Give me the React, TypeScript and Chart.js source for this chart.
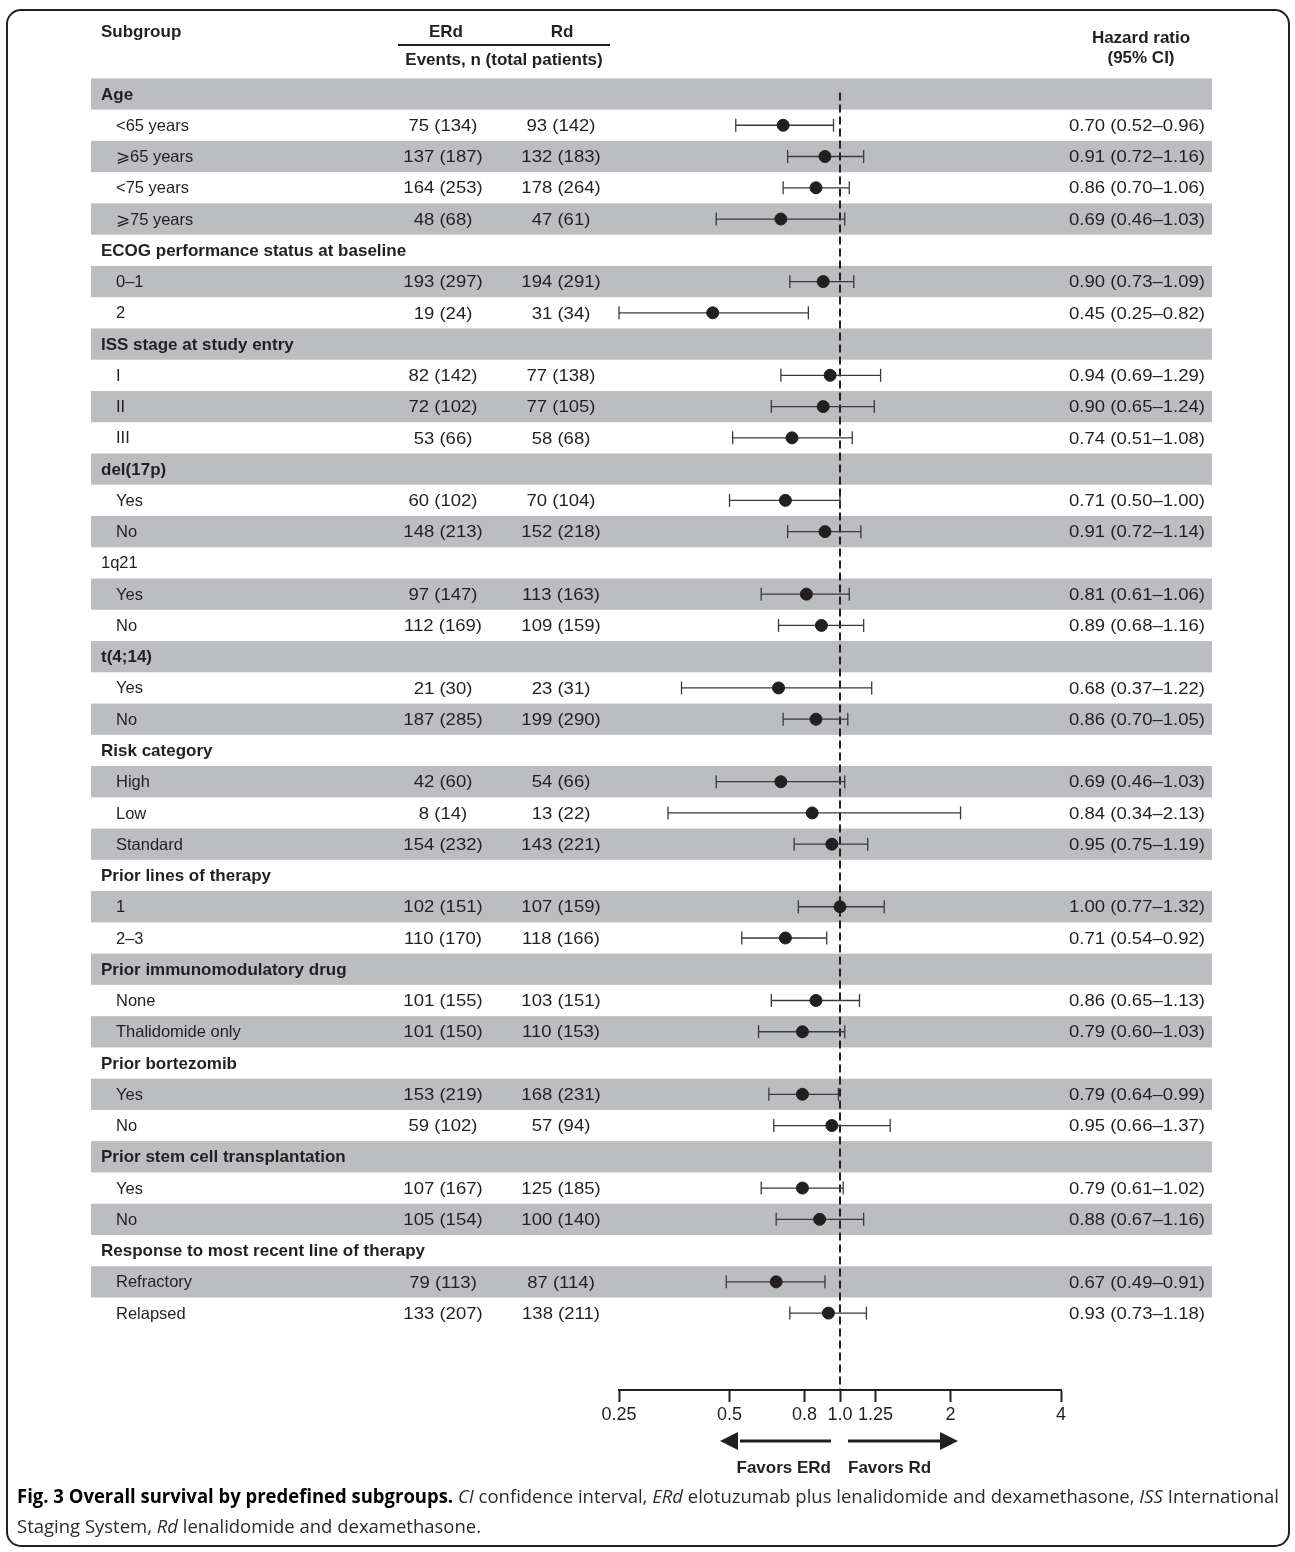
import React, { useEffect, useRef } from 'react';
import { Chart, registerables } from 'chart.js';

Chart.register(...registerables);

// ---------- data ----------
const subgroupLabels = [
  'Age', '<65 years', '⩾65 years', '<75 years', '⩾75 years',
  'ECOG performance status at baseline', '0–1', '2',
  'ISS stage at study entry', 'I', 'II', 'III',
  'del(17p)', 'Yes', 'No',
  '1q21', 'Yes', 'No',
  't(4;14)', 'Yes', 'No',
  'Risk category', 'High', 'Low', 'Standard',
  'Prior lines of therapy', '1', '2–3',
  'Prior immunomodulatory drug', 'None', 'Thalidomide only',
  'Prior bortezomib', 'Yes', 'No',
  'Prior stem cell transplantation', 'Yes', 'No',
  'Response to most recent line of therapy', 'Refractory', 'Relapsed',
];
// h = bold group header, p = plain group header, s = subgroup row
const rowKinds = [
  'h', 's', 's', 's', 's',
  'h', 's', 's',
  'h', 's', 's', 's',
  'h', 's', 's',
  'p', 's', 's',
  'h', 's', 's',
  'h', 's', 's', 's',
  'h', 's', 's',
  'h', 's', 's',
  'h', 's', 's',
  'h', 's', 's',
  'h', 's', 's',
];
const erdEvents = [null, 75, 137, 164, 48, null, 193, 19, null, 82, 72, 53, null, 60, 148, null, 97, 112, null, 21, 187, null, 42, 8, 154, null, 102, 110, null, 101, 101, null, 153, 59, null, 107, 105, null, 79, 133];
const erdTotal = [null, 134, 187, 253, 68, null, 297, 24, null, 142, 102, 66, null, 102, 213, null, 147, 169, null, 30, 285, null, 60, 14, 232, null, 151, 170, null, 155, 150, null, 219, 102, null, 167, 154, null, 113, 207];
const rdEvents = [null, 93, 132, 178, 47, null, 194, 31, null, 77, 77, 58, null, 70, 152, null, 113, 109, null, 23, 199, null, 54, 13, 143, null, 107, 118, null, 103, 110, null, 168, 57, null, 125, 100, null, 87, 138];
const rdTotal = [null, 142, 183, 264, 61, null, 291, 34, null, 138, 105, 68, null, 104, 218, null, 163, 159, null, 31, 290, null, 66, 22, 221, null, 159, 166, null, 151, 153, null, 231, 94, null, 185, 140, null, 114, 211];
const hazardRatio = [null, 0.70, 0.91, 0.86, 0.69, null, 0.90, 0.45, null, 0.94, 0.90, 0.74, null, 0.71, 0.91, null, 0.81, 0.89, null, 0.68, 0.86, null, 0.69, 0.84, 0.95, null, 1.00, 0.71, null, 0.86, 0.79, null, 0.79, 0.95, null, 0.79, 0.88, null, 0.67, 0.93];
const ciLow = [null, 0.52, 0.72, 0.70, 0.46, null, 0.73, 0.25, null, 0.69, 0.65, 0.51, null, 0.50, 0.72, null, 0.61, 0.68, null, 0.37, 0.70, null, 0.46, 0.34, 0.75, null, 0.77, 0.54, null, 0.65, 0.60, null, 0.64, 0.66, null, 0.61, 0.67, null, 0.49, 0.73];
const ciHigh = [null, 0.96, 1.16, 1.06, 1.03, null, 1.09, 0.82, null, 1.29, 1.24, 1.08, null, 1.00, 1.14, null, 1.06, 1.16, null, 1.22, 1.05, null, 1.03, 2.13, 1.19, null, 1.32, 0.92, null, 1.13, 1.03, null, 0.99, 1.37, null, 1.02, 1.16, null, 0.91, 1.18];

const xTickValues = [0.25, 0.5, 0.8, 1, 1.25, 2, 4];
const xTickLabels = ['0.25', '0.5', '0.8', '1.0', '1.25', '2', '4'];

const headerTexts = ['Subgroup', 'ERd', 'Rd', 'Events, n (total patients)', 'Hazard ratio', '(95% CI)'];
const favorTexts = ['Favors ERd', 'Favors Rd'];
const captionLine1 = [
  ['b', 'Fig. 3 Overall survival by predefined subgroups.'],
  ['r', ' '],
  ['i', 'CI'],
  ['r', ' confidence interval, '],
  ['i', 'ERd'],
  ['r', ' elotuzumab plus lenalidomide and dexamethasone, '],
  ['i', 'ISS'],
  ['r', ' International'],
];
const captionLine2 = [
  ['r', 'Staging System, '],
  ['i', 'Rd'],
  ['r', ' lenalidomide and dexamethasone.'],
];

// ---------- style ----------
const FONT = '"Liberation Sans", Arial, Helvetica, sans-serif';
const CAP_FONT = '"Open Sans", "Noto Sans", sans-serif';
const INK = '#231f20';
const BAND = '#bcbdc0';
const W = 1295;
const H = 1552;

const fmt = (v: number) => v.toFixed(2);

export default function App() {
  const ref = useRef<HTMLCanvasElement>(null);

  useEffect(() => {
    const canvas = ref.current;
    if (!canvas) return;

    const pointData: any[] = [];
    const whiskerData: any[] = [];
    subgroupLabels.forEach((_, i) => {
      const h = hazardRatio[i];
      const lo = ciLow[i];
      const hi = ciHigh[i];
      if (h != null && lo != null && hi != null) {
        pointData.push({ x: h, y: i });
        whiskerData.push({ x: lo, y: i }, { x: hi, y: i }, { x: hi, y: null });
      }
    });

    const yMin = -0.5;
    const yMax = 41.46;

    const tablePlugin = {
      id: 'forestTable',
      beforeDatasetsDraw(chart: any) {
        const ctx = chart.ctx;
        const ys = chart.scales.y;
        ctx.save();
        ctx.fillStyle = BAND;
        subgroupLabels.forEach((_, i) => {
          if (i % 2 === 0) {
            const t = ys.getPixelForValue(i - 0.5);
            const b = ys.getPixelForValue(i + 0.5);
            ctx.fillRect(91, t, 1212 - 91, b - t);
          }
        });
        ctx.restore();
      },
      afterDraw(chart: any) {
        const ctx = chart.ctx;
        const ys = chart.scales.y;
        const xs = chart.scales.x;
        ctx.save();
        ctx.fillStyle = INK;
        ctx.textBaseline = 'middle';

        const numText = (t: string, x: number, y: number, align: string) => {
          const sx = 1.09;
          ctx.save();
          ctx.font = `17px ${FONT}`;
          ctx.textAlign = 'left';
          const w = ctx.measureText(t).width * sx;
          const left = align === 'center' ? x - w / 2 : align === 'right' ? x - w : x;
          ctx.translate(left, y);
          ctx.scale(sx, 1);
          ctx.fillText(t, 0, 0);
          ctx.restore();
        };

        // column headers
        ctx.font = `bold 17px ${FONT}`;
        ctx.textAlign = 'left';
        ctx.fillText(headerTexts[0], 101, 32);
        ctx.textAlign = 'center';
        ctx.fillText(headerTexts[1], 446, 32);
        ctx.fillText(headerTexts[2], 562, 32);
        ctx.fillText(headerTexts[3], 504, 60);
        ctx.fillText(headerTexts[4], 1141, 38);
        ctx.fillText(headerTexts[5], 1141, 58);
        ctx.strokeStyle = INK;
        ctx.lineWidth = 2;
        ctx.beginPath();
        ctx.moveTo(398, 45);
        ctx.lineTo(610, 45);
        ctx.stroke();

        // rows
        subgroupLabels.forEach((label, i) => {
          const y = ys.getPixelForValue(i) + 1;
          const kind = rowKinds[i];
          ctx.textAlign = 'left';
          if (kind === 'h') {
            ctx.font = `bold 17px ${FONT}`;
            ctx.fillText(label, 101, y);
          } else if (kind === 'p') {
            ctx.font = `16.5px ${FONT}`;
            ctx.fillText(label, 101, y);
          } else {
            ctx.font = `16.5px ${FONT}`;
            ctx.fillText(label, 116, y);
          }
          const h = hazardRatio[i];
          if (h != null) {
            numText(`${erdEvents[i]} (${erdTotal[i]})`, 443, y, 'center');
            numText(`${rdEvents[i]} (${rdTotal[i]})`, 561, y, 'center');
            numText(`${fmt(h)} (${fmt(ciLow[i] as number)}–${fmt(ciHigh[i] as number)})`, 1205, y, 'right');
          }
        });

        // arrows below the axis
        const x1 = xs.getPixelForValue(1);
        const ay = 1441;
        ctx.lineWidth = 3;
        ctx.beginPath();
        ctx.moveTo(x1 - 9, ay);
        ctx.lineTo(x1 - 100, ay);
        ctx.moveTo(x1 + 8, ay);
        ctx.lineTo(x1 + 102, ay);
        ctx.stroke();
        ctx.beginPath();
        ctx.moveTo(x1 - 120, ay);
        ctx.lineTo(x1 - 102, ay - 9);
        ctx.lineTo(x1 - 102, ay + 9);
        ctx.closePath();
        ctx.fill();
        ctx.beginPath();
        ctx.moveTo(x1 + 118, ay);
        ctx.lineTo(x1 + 100, ay - 9);
        ctx.lineTo(x1 + 100, ay + 9);
        ctx.closePath();
        ctx.fill();
        ctx.font = `bold 17px ${FONT}`;
        ctx.textAlign = 'right';
        ctx.fillText(favorTexts[0], x1 - 9, 1468);
        ctx.textAlign = 'left';
        ctx.fillText(favorTexts[1], x1 + 8, 1468);

        // caption
        const fontFor = (k: string) =>
          k === 'b' ? `bold 19px ${CAP_FONT}` : k === 'i' ? `italic 19px ${CAP_FONT}` : `19px ${CAP_FONT}`;
        let w1 = 0;
        captionLine1.forEach(([k, t]) => {
          ctx.font = fontFor(k);
          w1 += ctx.measureText(t).width;
        });
        const sx = (1279 - 17) / w1;
        const drawLine = (runs: string[][], baseY: number) => {
          ctx.save();
          ctx.translate(17, baseY);
          ctx.scale(sx, 1);
          ctx.textAlign = 'left';
          ctx.textBaseline = 'alphabetic';
          let cx = 0;
          runs.forEach(([k, t]) => {
            ctx.font = fontFor(k);
            ctx.fillStyle = k === 'b' ? '#000000' : '#2b2b2b';
            ctx.fillText(t, cx, 0);
            cx += ctx.measureText(t).width;
          });
          ctx.restore();
        };
        drawLine(captionLine1, 1503);
        drawLine(captionLine2, 1533);

        // frame
        ctx.strokeStyle = INK;
        ctx.lineWidth = 2;
        ctx.beginPath();
        (ctx as any).roundRect(7, 10, 1282, 1536, 14);
        ctx.stroke();
        ctx.restore();
      },
    };

    const chart = new Chart(canvas, {
      type: 'scatter',
      data: {
        datasets: [
          {
            label: 'Hazard ratio',
            data: pointData,
            order: 0,
            pointRadius: 6,
            pointHoverRadius: 6,
            pointStyle: 'circle',
            backgroundColor: INK,
            borderColor: INK,
            pointBorderWidth: 1,
          },
          {
            label: '95% CI',
            data: whiskerData,
            order: 1,
            showLine: true,
            spanGaps: false,
            borderColor: '#3a3a3a',
            borderWidth: 1.3,
            pointStyle: 'line',
            rotation: 90,
            pointRadius: 6.5,
            pointHoverRadius: 6.5,
            pointBorderColor: '#3a3a3a',
            pointBorderWidth: 1.3,
            backgroundColor: '#3a3a3a',
          },
          {
            label: 'No effect',
            data: [{ x: 1, y: -0.05 }, { x: 1, y: yMax }],
            order: 2,
            showLine: true,
            borderColor: INK,
            borderWidth: 2,
            borderDash: [8, 4],
            pointRadius: 0,
            pointHoverRadius: 0,
          },
        ],
      } as any,
      options: {
        responsive: false,
        animation: false,
        devicePixelRatio: 1,
        events: [],
        clip: false,
        layout: { padding: { left: 619, right: 234, top: 78.37, bottom: 122 } },
        plugins: { legend: { display: false }, tooltip: { enabled: false } },
        scales: {
          x: {
            type: 'logarithmic',
            position: 'bottom',
            min: 0.25,
            max: 4,
            afterBuildTicks: (scale: any) => {
              scale.ticks = xTickValues.map((v) => ({ value: v }));
            },
            afterFit: (scale: any) => {
              scale.height = 40;
            },
            border: { display: true, color: INK, width: 2 },
            grid: {
              display: true,
              drawOnChartArea: false,
              drawTicks: true,
              tickLength: 12,
              tickWidth: 2,
              tickColor: INK,
              color: INK,
            },
            ticks: {
              autoSkip: false,
              maxRotation: 0,
              padding: 2,
              color: INK,
              font: { family: FONT, size: 18 },
              callback: (_v: any, idx: number) => xTickLabels[idx],
            },
          },
          y: {
            type: 'linear',
            display: false,
            reverse: true,
            min: yMin,
            max: yMax,
          },
        },
      } as any,
      plugins: [tablePlugin],
    });

    return () => chart.destroy();
  }, []);

  return (
    <div style={{ position: 'absolute', left: 0, top: 0, width: W, height: H, background: '#ffffff' }}>
      <canvas ref={ref} width={W} height={H} style={{ display: 'block', width: W, height: H }} />
    </div>
  );
}
